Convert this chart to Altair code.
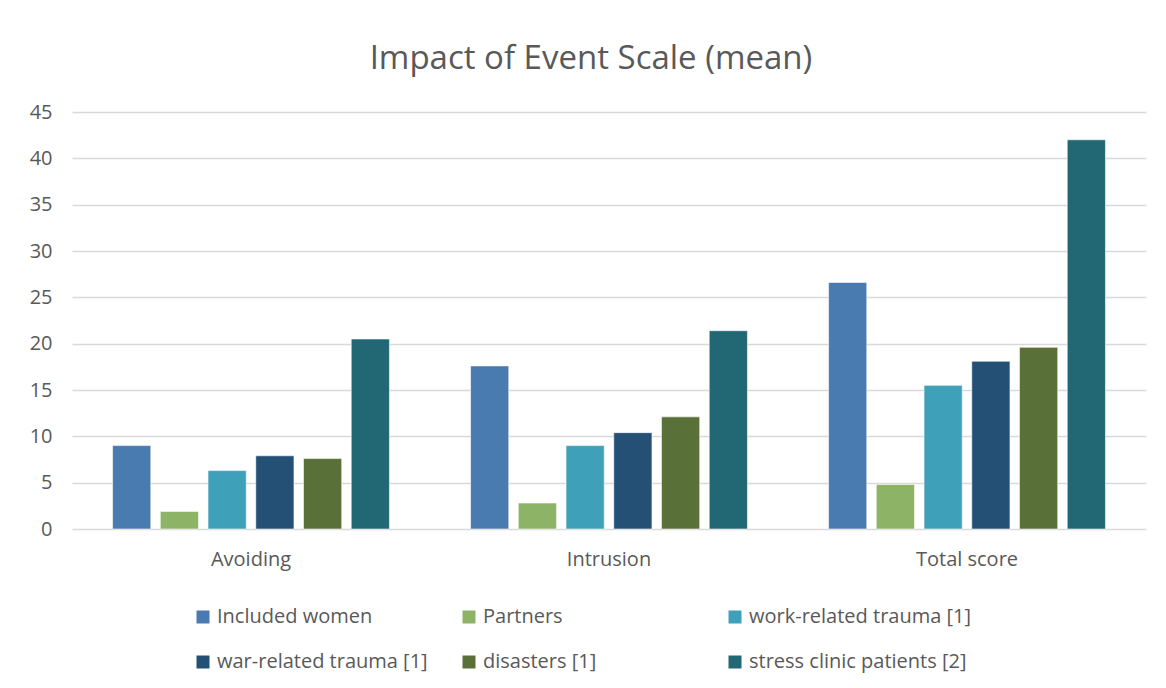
import altair as alt
import pandas as pd

categories = ["Avoiding", "Intrusion", "Total score"]
series = [
    "Included women",
    "Partners",
    "work-related trauma [1]",
    "war-related trauma [1]",
    "disasters [1]",
    "stress clinic patients [2]",
]
colors = ["#4A7BB0", "#8DB366", "#3FA1B9", "#245076", "#5A7039", "#216774"]

included_women = [9.0, 17.6, 26.6]
partners = [1.9, 2.8, 4.8]
work_related = [6.3, 9.0, 15.5]
war_related = [7.9, 10.4, 18.1]
disasters = [7.6, 12.1, 19.6]
stress_clinic = [20.5, 21.4, 42.0]

y_ticks = [0, 5, 10, 15, 20, 25, 30, 35, 40, 45]

values_by_series = [included_women, partners, work_related, war_related, disasters, stress_clinic]
rows = []
for s, vals in zip(series, values_by_series):
    for c, v in zip(categories, vals):
        rows.append({"category": c, "series": s, "value": v})
df = pd.DataFrame(rows)

text_color = "#595959"
font = "Open Sans"

chart = (
    alt.Chart(df, title=alt.TitleParams("Impact of Event Scale (mean)", dx=-18))
    .mark_bar(stroke="white", strokeWidth=0.8, strokeOpacity=0.7)
    .encode(
        x=alt.X(
            "category:N",
            sort=categories,
            scale=alt.Scale(paddingInner=0.2, paddingOuter=0.1),
            axis=alt.Axis(
                title=None,
                labelAngle=0,
                ticks=False,
                domain=False,
                labelFontSize=20,
                labelColor=text_color,
                labelFont=font,
                labelPadding=20,
            ),
        ),
        xOffset=alt.XOffset(
            "series:N",
            sort=series,
            scale=alt.Scale(paddingInner=0.2, paddingOuter=0.1),
        ),
        y=alt.Y(
            "value:Q",
            scale=alt.Scale(domain=[0, 45], nice=False),
            axis=alt.Axis(
                title=None,
                values=y_ticks,
                ticks=False,
                domain=False,
                labelFontSize=20,
                labelColor=text_color,
                labelFont=font,
                labelPadding=20,
                gridColor="#D9D9D9",
                gridWidth=1.5,
            ),
        ),
        color=alt.Color(
            "series:N",
            sort=series,
            scale=alt.Scale(domain=series, range=colors),
            legend=alt.Legend(
                title=None,
                orient="none",
                legendX=121,
                legendY=495,
                direction="horizontal",
                columns=3,
                gridAlign="all",
                columnPadding=19,
                rowPadding=25,
                symbolType="square",
                symbolSize=169,
                symbolStrokeWidth=0,
                labelFontSize=20,
                labelFont=font,
                labelColor=text_color,
                labelOffset=4,
                labelLimit=400,
            ),
        ),
    )
    .properties(
        width=1074,
        height=417,
        padding={"left": 21, "top": 35, "right": 12, "bottom": 10},
    )
    .configure_view(stroke=None)
    .configure_title(
        font=font,
        fontSize=33,
        fontWeight="normal",
        color=text_color,
        anchor="middle",
        offset=26,
    )
)

chart.save("out.html", embed_options={"renderer": "svg", "actions": False})
